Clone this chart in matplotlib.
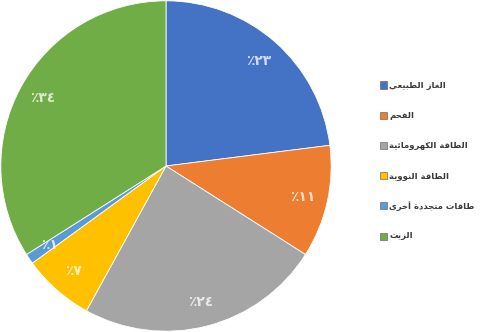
import matplotlib
matplotlib.use("Agg")
import matplotlib.pyplot as plt
from matplotlib.patches import Rectangle

categories = ["الغاز الطبيعي", "الفحم", "الطاقة الكهرومائية", "الطاقة النووية", "طاقات متجددة أخرى", "الزيت"]
values = [23, 11, 24, 7, 1, 34]
colors = ["#4472C4", "#ED7D31", "#A5A5A5", "#FFC000", "#5B9BD5", "#70AD47"]

# --- minimal Arabic shaper (presentation forms B) ---
FORMS = {
    '\u0621': ('\uFE80',),
    '\u0622': ('\uFE81', '\uFE82'),
    '\u0623': ('\uFE83', '\uFE84'),
    '\u0624': ('\uFE85', '\uFE86'),
    '\u0625': ('\uFE87', '\uFE88'),
    '\u0626': ('\uFE89', '\uFE8A', '\uFE8B', '\uFE8C'),
    '\u0627': ('\uFE8D', '\uFE8E'),
    '\u0628': ('\uFE8F', '\uFE90', '\uFE91', '\uFE92'),
    '\u0629': ('\uFE93', '\uFE94'),
    '\u062A': ('\uFE95', '\uFE96', '\uFE97', '\uFE98'),
    '\u062B': ('\uFE99', '\uFE9A', '\uFE9B', '\uFE9C'),
    '\u062C': ('\uFE9D', '\uFE9E', '\uFE9F', '\uFEA0'),
    '\u062D': ('\uFEA1', '\uFEA2', '\uFEA3', '\uFEA4'),
    '\u062E': ('\uFEA5', '\uFEA6', '\uFEA7', '\uFEA8'),
    '\u062F': ('\uFEA9', '\uFEAA'),
    '\u0630': ('\uFEAB', '\uFEAC'),
    '\u0631': ('\uFEAD', '\uFEAE'),
    '\u0632': ('\uFEAF', '\uFEB0'),
    '\u0633': ('\uFEB1', '\uFEB2', '\uFEB3', '\uFEB4'),
    '\u0634': ('\uFEB5', '\uFEB6', '\uFEB7', '\uFEB8'),
    '\u0635': ('\uFEB9', '\uFEBA', '\uFEBB', '\uFEBC'),
    '\u0636': ('\uFEBD', '\uFEBE', '\uFEBF', '\uFEC0'),
    '\u0637': ('\uFEC1', '\uFEC2', '\uFEC3', '\uFEC4'),
    '\u0638': ('\uFEC5', '\uFEC6', '\uFEC7', '\uFEC8'),
    '\u0639': ('\uFEC9', '\uFECA', '\uFECB', '\uFECC'),
    '\u063A': ('\uFECD', '\uFECE', '\uFECF', '\uFED0'),
    '\u0641': ('\uFED1', '\uFED2', '\uFED3', '\uFED4'),
    '\u0642': ('\uFED5', '\uFED6', '\uFED7', '\uFED8'),
    '\u0643': ('\uFED9', '\uFEDA', '\uFEDB', '\uFEDC'),
    '\u0644': ('\uFEDD', '\uFEDE', '\uFEDF', '\uFEE0'),
    '\u0645': ('\uFEE1', '\uFEE2', '\uFEE3', '\uFEE4'),
    '\u0646': ('\uFEE5', '\uFEE6', '\uFEE7', '\uFEE8'),
    '\u0647': ('\uFEE9', '\uFEEA', '\uFEEB', '\uFEEC'),
    '\u0648': ('\uFEED', '\uFEEE'),
    '\u0649': ('\uFEEF', '\uFEF0'),
    '\u064A': ('\uFEF1', '\uFEF2', '\uFEF3', '\uFEF4'),
}


def shape(text):
    out = []
    n = len(text)
    for i, ch in enumerate(text):
        f = FORMS.get(ch)
        if f is None:
            out.append(ch)
            continue
        prev = text[i - 1] if i > 0 else ''
        nxt = text[i + 1] if i + 1 < n else ''
        jp = prev in FORMS and len(FORMS[prev]) == 4
        jn = len(f) == 4 and nxt in FORMS
        if len(f) == 1:
            out.append(f[0])
        elif jp and jn:
            out.append(f[3])
        elif jp:
            out.append(f[1])
        elif jn:
            out.append(f[2])
        else:
            out.append(f[0])
    return ''.join(out)[::-1]


ARDIG = str.maketrans("0123456789", "٠١٢٣٤٥٦٧٨٩")


def pct_label(p):
    return "٪" + str(int(round(p))).translate(ARDIG)


W, H = 480, 332
fig = plt.figure(figsize=(W / 100, H / 100), dpi=100)
fig.patch.set_facecolor("white")
ax = fig.add_axes([0.0, 0.0, 332 / W, 1.0])
wedges, texts, autotexts = ax.pie(
    values, colors=colors, startangle=90, counterclock=False,
    autopct=pct_label, pctdistance=0.85, radius=1.0,
    wedgeprops=dict(edgecolor="white", linewidth=0.6),
    textprops=dict(color="white", alpha=0.75, fontsize=10, fontweight="bold", family="DejaVu Sans"),
)
ax.set_xlim(-1.005, 1.005)
ax.set_ylim(-1.005, 1.005)
ax.set_aspect("equal")
ax.axis("off")

# legend drawn manually (pixel layout)
y0, dy = 85, 30.2
msize = 7
for i, (cat, col) in enumerate(zip(categories, colors)):
    yc = y0 + i * dy
    fig.add_artist(Rectangle(((380) / W, 1 - (yc + msize / 2) / H), msize / W, msize / H,
                             transform=fig.transFigure, facecolor=col,
                             edgecolor="#555555", linewidth=0.4))
    fig.text(389 / W, 1 - yc / H, shape(cat), ha="left", va="center",
             family="DejaVu Sans", weight="bold", size=6.1, color="#3a3a3a")

fig.savefig("out.png", dpi=100, facecolor="white")
